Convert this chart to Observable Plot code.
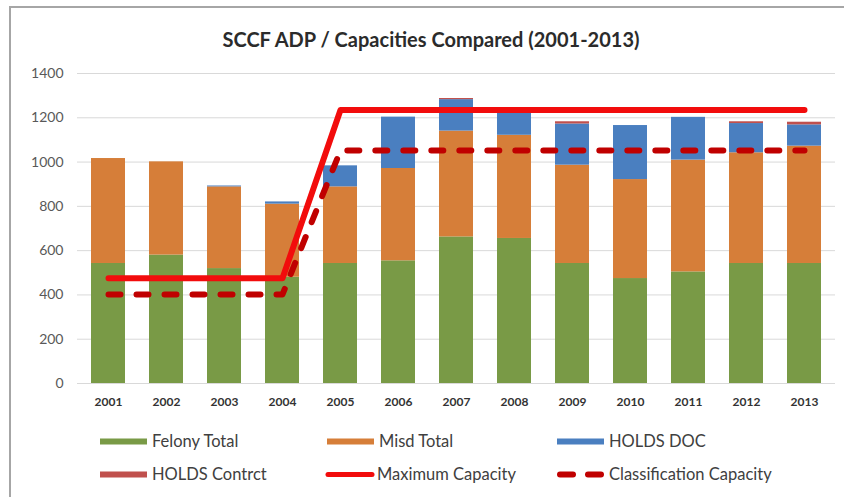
<!DOCTYPE html>
<html>
<head>
<meta charset="utf-8">
<script src="https://cdn.jsdelivr.net/npm/d3@7"></script>
<script src="https://cdn.jsdelivr.net/npm/@observablehq/plot@0.6"></script>
<style>
  html, body { margin: 0; padding: 0; background: #fff; }
  #wrap { position: relative; width: 844px; height: 497px; overflow: hidden; font-family: Lato, "Open Sans", sans-serif; }
  #frame { position: absolute; left: 9px; top: 6px; width: 900px; height: 600px; border-left: 2px solid #a6a6a6; border-top: 2px solid #a6a6a6; box-sizing: border-box; }
  #title { position: absolute; left: 0; width: 862px; top: 27px; text-align: center; font-size: 20px; font-weight: bold; color: #2b2b2b; line-height: 24px; }
  #chart { position: absolute; left: 0; top: 60px; }
  .lg { position: absolute; font-size: 16.5px; color: #404040; line-height: 20px; white-space: nowrap; }
  .lg svg { position: absolute; left: 0; top: 0; }
  .lg span { position: absolute; left: 52px; top: 0; }
</style>
</head>
<body>
<div id="wrap">
  <div id="frame"></div>
  <div id="title"></div>
  <div id="chart"></div>
  <div id="legend"></div>
</div>
<script>
const title = "SCCF ADP / Capacities Compared (2001-2013)";
const years = ["2001","2002","2003","2004","2005","2006","2007","2008","2009","2010","2011","2012","2013"];
const felonyTotal   = [542, 580, 519, 480, 542, 554, 662, 655, 542, 474, 504, 542, 542];
const misdTotal     = [474, 421, 369, 330, 346, 417, 478, 466, 444, 447, 505, 500, 530];
const holdsDoc      = [0,   0,   4,   10,  95,  232, 142, 104, 186, 244, 193, 132, 96];
const holdsContrct  = [0,   0,   0,   0,   0,   0,   5,   0,   10,  0,   0,   8,   12];
const maxCapacity   = [475, 475, 475, 475, 1235, 1235, 1235, 1235, 1235, 1235, 1235, 1235, 1235];
const classCapacity = [402, 402, 402, 402, 1052, 1052, 1052, 1052, 1052, 1052, 1052, 1052, 1052];
const barSeries = ["Felony Total", "Misd Total", "HOLDS DOC", "HOLDS Contrct"];
const barColors = ["#799a46", "#d67e39", "#4a7fc0", "#c0504d"];
const lineSeries = ["Maximum Capacity", "Classification Capacity"];
const lineColors = ["#f20c0c", "#c00000"];
const yTicks = [0, 200, 400, 600, 800, 1000, 1200, 1400];

document.getElementById("title").textContent = title;

const seriesValues = [felonyTotal, misdTotal, holdsDoc, holdsContrct];
const barData = [];
barSeries.forEach((s, i) => years.forEach((y, j) => barData.push({year: y, series: s, value: seriesValues[i][j]})));
const maxData = years.map((y, j) => ({year: y, value: maxCapacity[j]}));
const classData = years.map((y, j) => ({year: y, value: classCapacity[j]}));

const chart = Plot.plot({
  width: 844,
  height: 360,
  marginLeft: 77,
  marginRight: 9,
  marginTop: 13,
  marginBottom: 37,
  style: {fontFamily: "Lato, 'Open Sans', sans-serif", background: "transparent"},
  x: {domain: years, paddingInner: 0.42, paddingOuter: 0.21, label: null},
  y: {domain: [0, 1400], label: null},
  color: {domain: barSeries, range: barColors},
  marks: [
    Plot.gridY(yTicks, {stroke: "#d9d9d9", strokeOpacity: 1, strokeWidth: 1}),
    Plot.barY(barData, {x: "year", y: "value", fill: "series", order: barSeries}),
    Plot.line(maxData, {x: "year", y: "value", stroke: lineColors[0], strokeWidth: 6, strokeLinecap: "round", strokeLinejoin: "round"}),
    Plot.line(classData, {x: "year", y: "value", stroke: lineColors[1], strokeWidth: 6, strokeDasharray: "12,16", strokeLinecap: "round", strokeLinejoin: "round"}),
    Plot.axisY({ticks: yTicks, tickFormat: d => String(d), tickSize: 0, tickPadding: 14, fontSize: 14, fill: "#595959", label: null}),
    Plot.axisX({tickSize: 0, tickPadding: 14, fontSize: 12, fontWeight: "bold", fill: "#333", label: null})
  ]
});
document.getElementById("chart").appendChild(chart);

// Legend
const legend = document.getElementById("legend");
const items = [
  {name: barSeries[0], type: "rect", color: barColors[0], x: 100, y: 431},
  {name: barSeries[1], type: "rect", color: barColors[1], x: 327, y: 431},
  {name: barSeries[2], type: "rect", color: barColors[2], x: 557, y: 431},
  {name: barSeries[3], type: "rect", color: barColors[3], x: 100, y: 464},
  {name: lineSeries[0], type: "line", color: lineColors[0], x: 325, y: 464},
  {name: lineSeries[1], type: "dash", color: lineColors[1], x: 557, y: 464}
];
items.forEach(it => {
  const d = document.createElement("div");
  d.className = "lg";
  d.style.left = it.x + "px";
  d.style.top = it.y + "px";
  let sw = "";
  if (it.type === "rect") sw = `<rect x="0" y="7.5" width="47" height="6" fill="${it.color}"/>`;
  else if (it.type === "line") sw = `<line x1="3" y1="10.5" x2="47" y2="10.5" stroke="${it.color}" stroke-width="5" stroke-linecap="round"/>`;
  else sw = `<line x1="3" y1="10.5" x2="48" y2="10.5" stroke="${it.color}" stroke-width="6" stroke-linecap="round" stroke-dasharray="13,15"/>`;
  d.innerHTML = `<svg width="52" height="20">${sw}</svg><span>${it.name}</span>`;
  legend.appendChild(d);
});
</script>
</body>
</html>
